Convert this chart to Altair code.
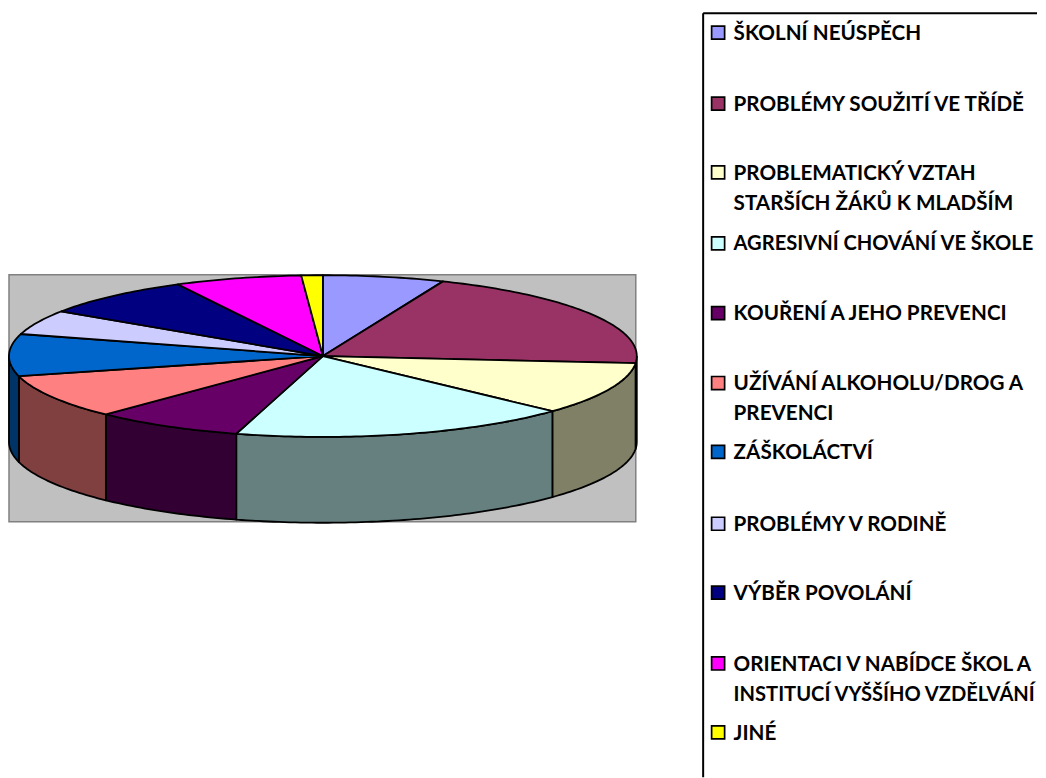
import math
import altair as alt
import pandas as pd

categories = ["ŠKOLNÍ NEÚSPĚCH", "PROBLÉMY SOUŽITÍ VE TŘÍDĚ", "PROBLEMATICKÝ VZTAH\nSTARŠÍCH ŽÁKŮ K MLADŠÍM",
              "AGRESIVNÍ CHOVÁNÍ VE ŠKOLE", "KOUŘENÍ A JEHO PREVENCI", "UŽÍVÁNÍ ALKOHOLU/DROG A\nPREVENCI",
              "ZÁŠKOLÁCTVÍ", "PROBLÉMY V RODINĚ", "VÝBĚR POVOLÁNÍ",
              "ORIENTACI V NABÍDCE ŠKOL A\nINSTITUCÍ VYŠŠÍHO VZDĚLVÁNÍ", "JINÉ"]
values = [6.25, 20.15, 10.55, 17.5, 7.7, 8.85, 8.4, 4.9, 8.05, 6.55, 1.1]
face_colors = ["#9999FF", "#993366", "#FFFFCC", "#CCFFFF", "#660066", "#FF8080",
               "#0066CC", "#CCCCFF", "#000080", "#FF00FF", "#FFFF00"]
side_colors = ["#4D4D80", "#4D1933", "#808066", "#668080", "#330033", "#804040",
               "#003366", "#666680", "#000040", "#800080", "#808000"]
legend_y = [32, 103, 172, 243, 313, 383, 452, 524, 593, 664, 733]

W, H = 1030, 770
CX, CY, RX, RY, DEPTH = 322.5, 356, 314.5, 81, 86
LINE = 30

xs = alt.Scale(domain=[8, 8 + W], range=[0, W])
ys = alt.Scale(domain=[8, 8 + H], range=[0, H])
X = alt.X("x:Q", scale=xs, axis=None)
Y = alt.Y("y:Q", scale=ys, axis=None)


def pt(deg, dy=0):
    a = math.radians(deg)
    return CX + RX * math.sin(a), CY - RY * math.cos(a) + dy


total = sum(values)
top_rows, side_rows = [], []
start = 0.0
for n, v in enumerate(values):
    end = start + v / total * 360
    steps = max(2, int(end - start))
    arc = [start + (end - start) * k / steps for k in range(steps + 1)]
    poly = [(CX, CY)] + [pt(a) for a in arc] + [(CX, CY)]
    for i, (x, y) in enumerate(poly):
        top_rows.append(dict(s=f"t{n:02d}", i=i, x=x, y=y, c=face_colors[n]))
    lo, hi = max(start, 90), min(end, 270)
    if lo < hi:
        steps = max(2, int(hi - lo))
        arc = [lo + (hi - lo) * k / steps for k in range(steps + 1)]
        poly = [pt(a) for a in arc] + [pt(a, DEPTH) for a in reversed(arc)]
        poly.append(poly[0])
        for i, (x, y) in enumerate(poly):
            side_rows.append(dict(s=f"s{n:02d}", i=i, x=x, y=y, c=side_colors[n]))
    start = end


def polys(rows):
    return alt.Chart(pd.DataFrame(rows)).mark_line(
        stroke="black", strokeWidth=1.8, strokeJoin="round", interpolate="linear"
    ).encode(x=X, y=Y, order="i:Q", detail="s:N", fill=alt.Fill("c:N", scale=None, legend=None))


plot_bg = alt.Chart(pd.DataFrame([dict(x=8, x2=636, y=274.5, y2=522)])).mark_rect(
    fill="#C0C0C0", stroke="#808080", strokeWidth=1.5
).encode(x=X, x2="x2:Q", y=Y, y2="y2:Q")

legend_frame = alt.Chart(pd.DataFrame([
    dict(x=703.5, x2=1038, y=12.5, y2=12.5),
    dict(x=703.5, x2=703.5, y=12.5, y2=778),
])).mark_rule(color="black", strokeWidth=2).encode(x=X, x2="x2:Q", y=Y, y2="y2:Q")

legend_df = pd.DataFrame(dict(x=[718.5] * 11, y=legend_y, c=face_colors))
markers = alt.Chart(legend_df).mark_square(size=170, opacity=1, stroke="black", strokeWidth=1.7).encode(
    x=X, y=Y, fill=alt.Fill("c:N", scale=None, legend=None)
)


def fitted_size(line):
    # the page stops at x=1038: the two widest labels are set a little smaller to stay inside it
    return 20.15 if line.startswith(("INSTITUCÍ", "AGRESIVNÍ")) else 20.7


text_rows = []
for label, y in zip(categories, legend_y):
    for k, line in enumerate(label.split("\n")):
        text_rows.append(dict(x=734, y=y + 1.2 + k * LINE, t=line, fs=fitted_size(line)))
labels = alt.Chart(pd.DataFrame(text_rows)).mark_text(
    align="left", baseline="middle", font="Lato", fontWeight="bold", color="black"
).encode(x=X, y=Y, text="t:N", size=alt.Size("fs:Q", scale=None, legend=None))

chart = alt.layer(plot_bg, polys(side_rows), polys(top_rows), legend_frame, markers, labels).properties(
    width=W, height=H, padding=0, background="white"
).configure_view(stroke=None)

chart.save("out.html", embed_options={"renderer": "svg", "actions": False})
